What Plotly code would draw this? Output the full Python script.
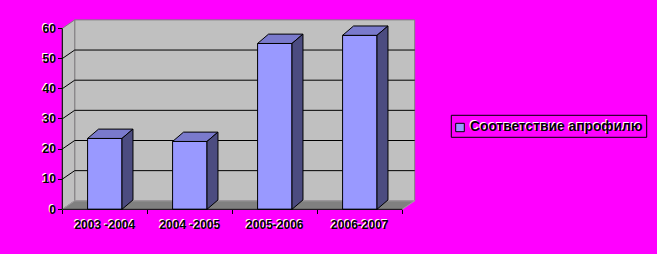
import plotly.graph_objects as go

# ---- data ----
categories = ["2003 -2004", "2004 -2005", "2005-2006", "2006-2007"]
values = [23.5, 22.5, 55.0, 57.7]
series_name = "Соответствие апрофилю"
y_ticks = [0, 10, 20, 30, 40, 50, 60]

# ---- geometry / style ----
W, H = 657, 254
L, R, T, B = 58, 239, 16, 44
PW, PH = W - L - R, H - T - B
X_RANGE = [-0.5506, 3.6847]
Y_RANGE = [-0.232, 64.11]
WALL_DX, WALL_DY = 0.146, 2.82
BAR_DX, BAR_DY = 0.129, 3.1
BAR_W = 0.405

FRONT = "#9999FF"
TOP = "#7A7ACC"
SIDE = "#4C4C80"
WALL = "#C0C0C0"
FLOOR = "#808080"
EDGE = "#808080"
BG = "#FF00FF"
FONT = dict(family="Liberation Sans, Arial, sans-serif", size=12, color="black",
            weight="bold", shadow="-1px -1px 0px white")


def px_x(p):
    return (p - L) / PW


def px_y(p):
    return (H - B - p) / PH


xs = list(range(len(categories)))
x_lo, x_hi = xs[0] - 0.5, xs[-1] + 0.5
y_top = max(y_ticks)

fig = go.Figure()

# front faces of the bars
fig.add_trace(go.Bar(
    x=xs, y=values, width=BAR_W, name=series_name,
    marker=dict(color=FRONT, line=dict(color="black", width=1)),
    showlegend=False, hoverinfo="skip"))

# top and side faces
for x, v in zip(xs, values):
    a, b = x - BAR_W / 2, x + BAR_W / 2
    fig.add_trace(go.Scatter(
        x=[a, b, b + BAR_DX, a + BAR_DX, a],
        y=[v, v, v + BAR_DY, v + BAR_DY, v],
        fill="toself", fillcolor=TOP, mode="lines",
        line=dict(color="black", width=1), showlegend=False, hoverinfo="skip"))
    fig.add_trace(go.Scatter(
        x=[b, b + BAR_DX, b + BAR_DX, b, b],
        y=[0, BAR_DY, v + BAR_DY, v, 0],
        fill="toself", fillcolor=SIDE, mode="lines",
        line=dict(color="black", width=1), showlegend=False, hoverinfo="skip"))

shapes = []
# back wall
shapes.append(dict(type="rect", xref="x", yref="y", layer="below",
                   x0=x_lo + WALL_DX, x1=x_hi + WALL_DX, y0=WALL_DY, y1=y_top + WALL_DY,
                   fillcolor=WALL, line=dict(color=EDGE, width=1)))
# left wall
shapes.append(dict(type="path", xref="x", yref="y", layer="below",
                   path=f"M{x_lo},0 L{x_lo + WALL_DX},{WALL_DY} L{x_lo + WALL_DX},{y_top + WALL_DY} L{x_lo},{y_top} Z",
                   fillcolor=WALL, line=dict(color=EDGE, width=1)))
# floor
shapes.append(dict(type="path", xref="x", yref="y", layer="below",
                   path=f"M{x_lo},0 L{x_hi},0 L{x_hi + WALL_DX},{WALL_DY} L{x_lo + WALL_DX},{WALL_DY} Z",
                   fillcolor=FLOOR, line=dict(color="#A0A0A0", width=1)))
# gridlines on the walls
for v in y_ticks[1:-1]:
    shapes.append(dict(type="path", xref="x", yref="y", layer="below",
                       path=f"M{x_lo},{v} L{x_lo + WALL_DX},{v + WALL_DY} L{x_hi + WALL_DX},{v + WALL_DY}",
                       line=dict(color="black", width=1)))
# front axis lines
shapes.append(dict(type="line", xref="x", yref="y", layer="above",
                   x0=x_lo, x1=x_lo, y0=0, y1=y_top, line=dict(color="black", width=1)))
shapes.append(dict(type="line", xref="x", yref="y", layer="above",
                   x0=x_lo, x1=x_hi, y0=0, y1=0, line=dict(color="black", width=1)))

# legend (box, swatch)
shapes.append(dict(type="rect", xref="paper", yref="paper",
                   x0=px_x(451.3), x1=px_x(646.7), y0=px_y(137.3), y1=px_y(115.3),
                   line=dict(color="black", width=1)))
shapes.append(dict(type="rect", xref="paper", yref="paper",
                   x0=px_x(455.7), x1=px_x(464.3), y0=px_y(131.7), y1=px_y(123.3),
                   fillcolor=FRONT, line=dict(color="black", width=1)))

annotations = [dict(text=series_name, xref="paper", yref="paper",
                    x=px_x(467.5), y=px_y(126.6), xanchor="left", yanchor="middle",
                    showarrow=False, font=dict(FONT, size=13.8))]

fig.update_layout(
    width=W, height=H,
    margin=dict(l=L, r=R, t=T, b=B, pad=0),
    paper_bgcolor=BG, plot_bgcolor=BG,
    showlegend=False,
    shapes=shapes, annotations=annotations,
    xaxis=dict(range=X_RANGE, tickmode="array", tickvals=xs, ticktext=categories,
               ticks="", showgrid=False, zeroline=False, showline=False,
               anchor="free", position=px_y(209.3), tickfont=FONT,
               ticklabelstandoff=7,
               minor=dict(tickmode="array", tickvals=[x - 0.5 for x in xs] + [x_hi],
                          ticks="outside", ticklen=4, tickcolor="black", tickwidth=1,
                          showgrid=False)),
    yaxis=dict(range=Y_RANGE, tickmode="array", tickvals=y_ticks,
               ticks="outside", ticklen=4, tickcolor="black", tickwidth=1,
               showgrid=False, zeroline=False, showline=False,
               anchor="free", position=px_x(62.3), tickfont=FONT),
)

fig.write_html("out.html")
